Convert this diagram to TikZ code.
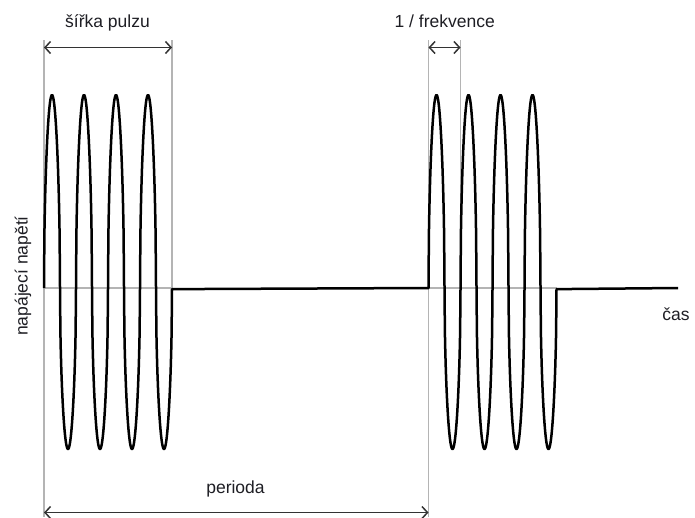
\documentclass[tikz,border=0pt]{standalone}
\usepackage{fontspec}
\setmainfont{Liberation Sans}
\usetikzlibrary{arrows.meta}
\definecolor{guidec}{HTML}{B4B4B4}
\definecolor{dimc}{HTML}{333333}
\definecolor{txtc}{HTML}{1E1E24}
\begin{document}
\begin{tikzpicture}[x=1pt,y=-1pt,
  wave/.style={line width=2.5pt, black, line join=round},
  guide/.style={line width=1.4pt, guidec},
  dimline/.style={line width=1.5pt, dimc, {Straight Barb[length=5.5pt,width=12pt]}-{Straight Barb[length=5.5pt,width=12pt]}},
  lbl/.style={font=\fontsize{17.5}{20}\selectfont, text=txtc, inner sep=0pt, anchor=base}]
\useasboundingbox (0,0) rectangle (695,517);
% guide coordinates
\coordinate (g1t) at (44,40);    \coordinate (g1b) at (44,517);
\coordinate (g2t) at (172,40);   \coordinate (g2b) at (172,288);
\coordinate (g3t) at (428.5,40); \coordinate (g3b) at (428.5,517);
\coordinate (g4t) at (460.5,40); \coordinate (g4b) at (460.5,288);
\coordinate (h1a) at (44,288);   \coordinate (h1b) at (172,288);
\coordinate (h2a) at (428.5,288);\coordinate (h2b) at (556.5,288);
\coordinate (tend) at (678,288);
% dimension coordinates
\coordinate (d1a) at (44,47.5);   \coordinate (d1b) at (172,47.5);
\coordinate (d2a) at (428.5,47.5);\coordinate (d2b) at (460.5,47.5);
\coordinate (d3a) at (44,512.5);  \coordinate (d3b) at (428.5,512.5);
% guides
\draw[guide] (g1t) -- (g1b);
\draw[guide] (g2t) -- (g2b);
\draw[guide] (g3t) -- (g3b);
\draw[guide] (g4t) -- (g4b);
\draw[guide] (h1a) -- (h1b);
\draw[guide] (h2a) -- (h2b);
% waveform
\draw[wave] (h1a)
  \foreach \k in {0,1,2,3}{
    -- plot[domain=0:16,samples=41] ({44+32*\k+\x},{288-193*sqrt(abs(sin(\x*11.25)))})
    -- plot[domain=0:16,samples=41] ({60+32*\k+\x},{288+161*sqrt(abs(sin(\x*11.25)))})
  }
  -- (h2a)
  \foreach \k in {0,1,2,3}{
    -- plot[domain=0:16,samples=41] ({428.5+32*\k+\x},{288-193*sqrt(abs(sin(\x*11.25)))})
    -- plot[domain=0:16,samples=41] ({444.5+32*\k+\x},{288+161*sqrt(abs(sin(\x*11.25)))})
  }
  -- (tend);
% dimension arrows
\draw[dimline] (d1a) -- (d1b);
\draw[dimline] (d2a) -- (d2b);
\draw[dimline] (d3a) -- (d3b);
% labels
\node[lbl] (lw) at (107.5,27) {šířka pulzu};
\node[lbl] (lf) at (444.7,27) {1 / frekvence};
\node[lbl] (lp) at (235.5,493.5) {perioda};
\node[lbl] (lt) at (676,320) {čas};
\node[lbl, rotate=90] (lv) at (27.5,276) {napájecí napětí};
\end{tikzpicture}
\end{document}
